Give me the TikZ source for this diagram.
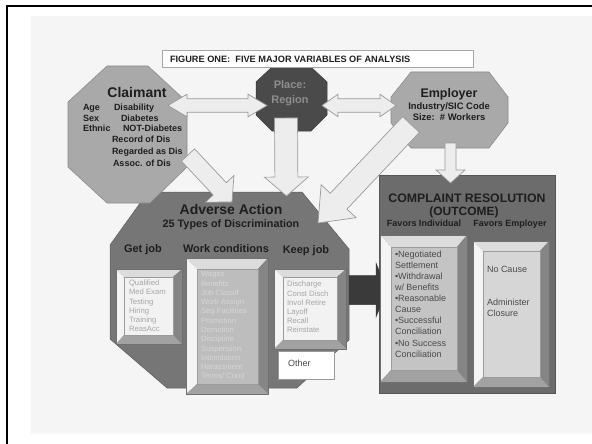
\documentclass[tikz,border=0pt]{standalone}
\usepackage{fontspec}
\setmainfont{Liberation Sans}
\usetikzlibrary{calc}
\definecolor{panel}{HTML}{F5F5F5}
\definecolor{octgray}{HTML}{A9A9A9}
\definecolor{octedge}{HTML}{8C8C8C}
\definecolor{placegray}{HTML}{4A4A4A}
\definecolor{placetext}{HTML}{8E8E8E}
\definecolor{advgray}{HTML}{767676}
\definecolor{compgray}{HTML}{6C6C6C}
\definecolor{arrowfill}{HTML}{EDEDED}
\definecolor{arrowedge}{HTML}{9A9A9A}
\definecolor{darkarr}{HTML}{3A3A3A}
\definecolor{ink}{HTML}{1E1E1E}
\definecolor{bvtop}{HTML}{DCDCDC}
\definecolor{bvleft}{HTML}{F4F4F4}
\definecolor{bvright}{HTML}{858585}
\definecolor{bvbot}{HTML}{A2A2A2}
\definecolor{bvedge}{HTML}{707070}
\definecolor{facelight}{HTML}{F2F2F2}
\definecolor{facemid}{HTML}{BDBDBD}
\definecolor{faceind}{HTML}{C4C4C4}
\definecolor{faceemp}{HTML}{D6D6D6}
\definecolor{txtlight}{HTML}{A6A6A6}
\definecolor{txtwork}{HTML}{D6D6D6}
\definecolor{txtdark}{HTML}{4A4A4A}
\tikzset{
  lightarrow/.style={fill=arrowfill, draw=arrowedge, line width=0.7pt, line join=miter},
  darkarrow/.style={fill=darkarr, draw=darkarr, line width=0.5pt},
  oct/.style={fill=octgray, draw=octedge, line width=0.6pt},
  txt/.style={inner sep=0pt, outer sep=0pt, text=ink},
  boldtxt/.style={txt, font=\bfseries},
}
\newcommand\blockarrow[6]{%
  \path (#2) coordinate (ba-s) (#3) coordinate (ba-e);
  \path ($(ba-e)!#6!(ba-s)$) coordinate (ba-h);
  \draw[#1] ($(ba-s)!#4!90:(ba-e)$) -- ($(ba-h)!#4!-90:(ba-s)$) -- ($(ba-h)!#5!-90:(ba-s)$) -- (ba-e) -- ($(ba-h)!#5!90:(ba-s)$) -- ($(ba-h)!#4!90:(ba-s)$) -- ($(ba-s)!#4!-90:(ba-e)$) -- cycle;}
\newcommand\dblarrow[6]{%
  \path (#2) coordinate (da-s) (#3) coordinate (da-e);
  \path ($(da-s)!#6!(da-e)$) coordinate (da-hs) ($(da-e)!#6!(da-s)$) coordinate (da-he);
  \draw[#1] (da-s) -- ($(da-hs)!#5!90:(da-e)$) -- ($(da-hs)!#4!90:(da-e)$) -- ($(da-he)!#4!-90:(da-s)$) -- ($(da-he)!#5!-90:(da-s)$) -- (da-e) -- ($(da-he)!#5!90:(da-s)$) -- ($(da-he)!#4!90:(da-s)$) -- ($(da-hs)!#4!-90:(da-e)$) -- ($(da-hs)!#5!-90:(da-e)$) -- cycle;}
\newcommand\bevelbox[9]{%
  \fill[bvtop] (#1,#2) -- (#3,#2) -- (#7,#6) -- (#5,#6) -- cycle;
  \fill[bvleft] (#1,#2) -- (#5,#6) -- (#5,#8) -- (#1,#4) -- cycle;
  \fill[bvright] (#3,#2) -- (#3,#4) -- (#7,#8) -- (#7,#6) -- cycle;
  \fill[bvbot] (#1,#4) -- (#5,#8) -- (#7,#8) -- (#3,#4) -- cycle;
  \fill[#9] (#5,#6) rectangle (#7,#8);
  \draw[bvedge, line width=0.5pt] (#1,#2) rectangle (#3,#4);
  \draw[bvedge!70, line width=0.3pt] (#5,#6) rectangle (#7,#8);}
\begin{document}
\begin{tikzpicture}[x=1pt,y=-1pt]
\useasboundingbox (0,0) rectangle (592,444);
\clip (0,0) rectangle (592,444);
\fill[white] (0,0) rectangle (592,444);
\fill[panel] (31,16) rectangle (600,434);
\draw[black, line width=2pt] (7,6.5) rectangle (640,480);

% big shapes
\filldraw[fill=advgray, draw=advgray!80!black, line width=0.5pt] (148,192) -- (302,192) -- (349,249) -- (349,340) -- (297,388) -- (167,388) -- (110,339) -- (110,245) -- cycle;
\filldraw[fill=compgray, draw=compgray!80!black, line width=0.5pt] (379,175) rectangle (555,393);
\filldraw[oct] (107,66) -- (148,66) -- (187,102) -- (187,167) -- (150,203) -- (107,203) -- (68,167) -- (68,102) -- cycle;
\filldraw[fill=placegray, draw=placegray!80!black, line width=0.5pt] (272,67) -- (311,67) -- (327,82) -- (327,115) -- (311,131) -- (272,131) -- (256,115) -- (256,82) -- cycle;
\filldraw[oct] (411,72) -- (489,72) -- (508,97) -- (508,123) -- (489,148) -- (411,148) -- (391,123) -- (391,97) -- cycle;

% title
\node[draw=black!35, fill=white, line width=0.6pt, minimum width=311pt, minimum height=17pt, inner sep=0pt, anchor=north west] (titlebox) at (162,50) {};
\node[boldtxt, font=\bfseries\fontsize{9.2}{10}\selectfont, anchor=base west] (title) at (170,62.3) {FIGURE ONE:\ \ FIVE MAJOR VARIABLES OF ANALYSIS};

% connector coordinates
\coordinate (cp-s) at (168,105.5); \coordinate (cp-e) at (267,105.5);
\coordinate (pe-s) at (322,105.5); \coordinate (pe-e) at (396,105.5);
\coordinate (pd-s) at (286,118);   \coordinate (pd-e) at (286.5,196);
\coordinate (cd-s) at (188,155);   \coordinate (cd-e) at (232,202);
\coordinate (ed-s) at (411,124.5); \coordinate (ed-e) at (318,223);
\coordinate (ev-s) at (450.5,143); \coordinate (ev-e) at (450.5,183);
\coordinate (dk-s) at (349,290);   \coordinate (dk-e) at (387,290);

% light arrows
\dblarrow{lightarrow}{cp-s}{cp-e}{6.8pt}{11.3pt}{19pt}
\dblarrow{lightarrow}{pe-s}{pe-e}{6.8pt}{11.3pt}{16pt}
\blockarrow{lightarrow}{pd-s}{pd-e}{11.5pt}{22pt}{19pt}
\blockarrow{lightarrow}{cd-s}{cd-e}{9pt}{19.5pt}{18pt}
\blockarrow{lightarrow}{ed-s}{ed-e}{11.5pt}{24pt}{30pt}
\blockarrow{lightarrow}{ev-s}{ev-e}{5.5pt}{14.5pt}{13pt}

% inner boxes of adverse action
\bevelbox{116}{269}{182}{344}{124}{277}{173}{335}{facelight}
\bevelbox{186}{258}{268}{394}{197}{269}{258}{384}{facemid}
\bevelbox{274}{269}{346}{349}{283}{277}{337}{340}{facelight}
\node[draw=black!40, fill=white, line width=0.6pt, minimum width=56pt, minimum height=28pt, inner sep=0pt, anchor=north west] (otherbox) at (278,351) {};
\node[txt, text=txtdark, font=\fontsize{9}{10}\selectfont, anchor=base west] (other) at (288,366) {Other};

% dark arrow
\blockarrow{darkarrow}{dk-s}{dk-e}{14.5pt}{27pt}{11pt}

% complaint boxes
\bevelbox{380}{235}{467}{382}{391}{247}{457}{370}{faceind}
\bevelbox{473}{241}{549}{387}{483}{251}{540}{377}{faceemp}

% texts: claimant
\node[boldtxt, font=\bfseries\fontsize{14}{16}\selectfont, anchor=base] (claimant) at (137,98) {Claimant};
\begin{scope}[every node/.style={boldtxt, font=\bfseries\fontsize{9}{10}\selectfont, anchor=base west}]
\node (c-age) at (83,110.2) {Age};
\node (c-sex) at (83,121.2) {Sex};
\node (c-eth) at (83,131.2) {Ethnic};
\node (c-dis) at (114,110.2) {Disability};
\node (c-dia) at (121,121.2) {Diabetes};
\node (c-not) at (123,131.2) {NOT-Diabetes};
\node (c-rec) at (112,142.2) {Record of Dis};
\node (c-reg) at (112,154.2) {Regarded as Dis};
\node (c-ass) at (113,166.2) {Assoc. of Dis};
\end{scope}

% place
\node[boldtxt, text=placetext, font=\bfseries\fontsize{11}{12}\selectfont, anchor=base] (place1) at (290,88.9) {Place:};
\node[boldtxt, text=placetext, font=\bfseries\fontsize{11}{12}\selectfont, anchor=base] (place2) at (290,103.9) {Region};

% employer
\node[boldtxt, font=\bfseries\fontsize{12.5}{14}\selectfont, anchor=base] (employer) at (449,97.5) {Employer};
\node[boldtxt, font=\bfseries\fontsize{9.4}{10}\selectfont, anchor=base] (emp1) at (449,109.4) {Industry/SIC Code};
\node[boldtxt, font=\bfseries\fontsize{9.4}{10}\selectfont, anchor=base] (emp2) at (449,120.4) {Size:\ \ \# Workers};

% adverse action
\node[boldtxt, font=\bfseries\fontsize{14}{16}\selectfont, anchor=base] (adverse) at (231,214) {Adverse Action};
\node[boldtxt, font=\bfseries\fontsize{10.8}{12}\selectfont, anchor=base] (types) at (231,227.9) {25 Types of Discrimination};
\node[boldtxt, font=\bfseries\fontsize{11}{12}\selectfont, anchor=base] (getjob) at (143,252.9) {Get job};
\node[boldtxt, font=\bfseries\fontsize{11}{12}\selectfont, anchor=base] (workcond) at (226,252.9) {Work conditions};
\node[boldtxt, font=\bfseries\fontsize{11}{12}\selectfont, anchor=base] (keepjob) at (306,253) {Keep job};

\foreach \t [count=\i from 0] in {Qualified, Med Exam, Testing, Hiring, Training, ReasAcc}
  \node[txt, text=txtlight, font=\fontsize{7.7}{9}\selectfont, anchor=base west] (gj-\i) at (129,285.8+9.1*\i) {\t};
\foreach \t [count=\i from 0] in {Wages, Benefits, Job Classif, Work Assign, Seg Facilities, Promotion, Demotion, Discipline, Suspension, Intimidation, Harassment, Terms/ Cond}
  \node[txt, text=txtwork, font=\fontsize{7.7}{9}\selectfont, anchor=base west] (wc-\i) at (201,276.8+9.28*\i) {\t};
\foreach \t [count=\i from 0] in {Discharge, Const Disch, Invol Retire, Layoff, Recall, Reinstate}
  \node[txt, text=txtlight, font=\fontsize{7.7}{9}\selectfont, anchor=base west] (kj-\i) at (287,286.8+9.2*\i) {\t};

% complaint resolution
\node[boldtxt, font=\bfseries\fontsize{12.3}{14}\selectfont, anchor=base] (complaint) at (467,202.4) {COMPLAINT RESOLUTION};
\node[boldtxt, font=\bfseries\fontsize{12}{14}\selectfont, anchor=base] (outcome) at (464,215.4) {(OUTCOME)};
\node[boldtxt, font=\bfseries\fontsize{9}{10}\selectfont, anchor=base] (favind) at (424,226.2) {Favors Individual};
\node[boldtxt, font=\bfseries\fontsize{9}{10}\selectfont, anchor=base] (favemp) at (510,226.2) {Favors Employer};
\foreach \t [count=\i from 0] in {{\textbullet}Negotiated, Settlement, {\textbullet}Withdrawal, w/ Benefits, {\textbullet}Reasonable, Cause, {\textbullet}Successful, Conciliation, {\textbullet}No Success, Conciliation}
  \node[txt, text=txtdark, font=\fontsize{9}{10}\selectfont, anchor=base west] (fi-\i) at (395,257.2+11.1*\i) {\t};
\node[txt, text=txtdark, font=\fontsize{9}{10}\selectfont, anchor=base west] (fe-0) at (487,272.2) {No Cause};
\node[txt, text=txtdark, font=\fontsize{9}{10}\selectfont, anchor=base west] (fe-1) at (487,305.2) {Administer};
\node[txt, text=txtdark, font=\fontsize{9}{10}\selectfont, anchor=base west] (fe-2) at (487,316.2) {Closure};
\end{tikzpicture}
\end{document}
